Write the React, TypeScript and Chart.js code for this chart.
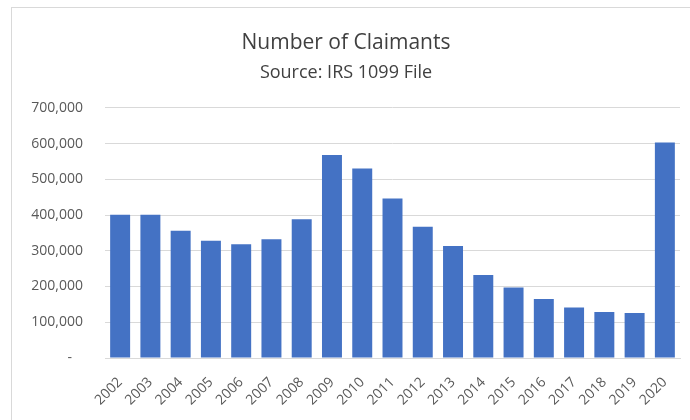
import React, { useEffect, useRef } from "react";
import { Chart, registerables } from "chart.js";

Chart.register(...registerables);

const years = ["2002","2003","2004","2005","2006","2007","2008","2009","2010","2011","2012","2013","2014","2015","2016","2017","2018","2019","2020"];
const claimants = [401000,401000,356000,328000,318000,332000,388000,568000,530000,446000,367000,313000,232000,197000,165000,141000,129000,126000,603000];
const titleText = "Number of Claimants";
const subtitleText = "Source: IRS 1099 File";
const yMax = 700000;
const yStep = 100000;

const FONT = "'Open Sans', 'Liberation Sans', sans-serif";

export default function App() {
  const ref = useRef<HTMLCanvasElement | null>(null);
  useEffect(() => {
    if (!ref.current) return;
    const chart = new Chart(ref.current, {
      type: "bar",
      data: {
        labels: years,
        datasets: [{
          data: claimants,
          backgroundColor: "#4472C4",
          borderWidth: 0,
          barPercentage: 0.66,
          categoryPercentage: 1,
        }],
      },
      options: {
        animation: false,
        responsive: false,
        layout: { padding: { top: 22, right: 22, left: 0, bottom: 0 } },
        plugins: {
          legend: { display: false },
          tooltip: { enabled: false },
          title: {
            display: true,
            text: titleText,
            color: "#404040",
            font: { family: FONT, size: 21, weight: "normal" },
            padding: { top: 0, bottom: 7 },
          },
          subtitle: {
            display: true,
            text: subtitleText,
            color: "#404040",
            font: { family: FONT, size: 18, weight: "normal" },
            padding: { top: 0, bottom: 24 },
          },
        },
        scales: {
          x: {
            grid: { display: false },
            border: { display: true, color: "#d9d9d9" },
            ticks: {
              color: "#595959",
              font: { family: FONT, size: 14 },
              minRotation: 45,
              maxRotation: 45,
              padding: 8,
              autoSkip: false,
            },
            afterFit: (s: any) => { s.height = 62; },
          },
          y: {
            min: 0,
            max: yMax,
            grid: { color: "#d9d9d9", drawTicks: false },
            border: { display: false },
            ticks: {
              stepSize: yStep,
              color: "#595959",
              font: { family: FONT, size: 14 },
              padding: 22,
              callback: (v: any) => (Number(v) === 0 ? "-   " : Number(v).toLocaleString("en-US")),
            },
            afterFit: (s: any) => { s.width = 93; },
          },
        },
      },
    });
    return () => chart.destroy();
  }, []);

  return (
    <div style={{ position: "fixed", left: 0, top: 0, width: 690, height: 420, overflow: "hidden", background: "#ffffff" }}>
      <div style={{ position: "absolute", left: 11, top: 7, width: 690, height: 420, border: "1px solid #d9d9d9", background: "#fff" }}>
        <canvas ref={ref} width={690} height={412} style={{ display: "block" }} />
      </div>
    </div>
  );
}
